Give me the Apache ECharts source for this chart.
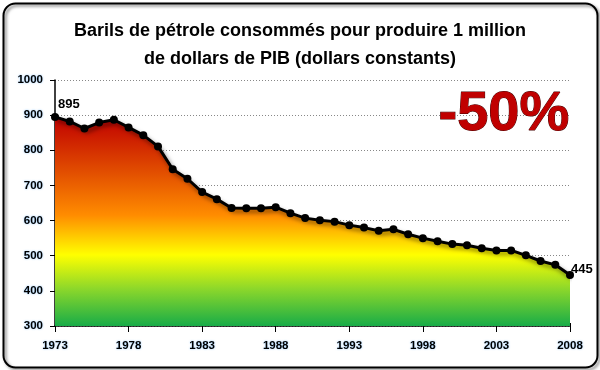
<!DOCTYPE html>
<html><head><meta charset="utf-8">
<script src="https://cdn.jsdelivr.net/npm/echarts@6/dist/echarts.min.js"></script>
<style>html,body{margin:0;padding:0;background:#fff}#c{width:600px;height:370px}</style>
</head><body><div id="c"></div>
<script>
const years = [];
for (let y = 1973; y <= 2008; y++) years.push(String(y));
const values = [895,882,862,879,887,865,843,811,746,719,681,661,636,635,635,638,621,607,601,597,587,580,571,575,561,550,541,533,530,521,515,515,501,485,474,445];
const yTicks = [300,1000,100];
const titleLines = ['Barils de pétrole consommés pour produire 1 million','de dollars de PIB (dollars constants)'];
const bigLabel = '-50%';

const F = 'Liberation Sans';
const lblStyle = {color:'#000', fontFamily:F, fontWeight:'bold', fontSize:11.5, textShadowColor:'rgba(80,170,255,0.7)', textShadowBlur:2};
const chart = echarts.init(document.getElementById('c'), null, {renderer:'canvas'});
const last = values.length - 1;
chart.setOption({
  animation:false,
  backgroundColor:'#fff',
  title:{text:titleLines.join('\n'), left:'center', top:12, textStyle:{fontFamily:F, fontWeight:'bold', fontSize:18, lineHeight:28, color:'#000'}},
  grid:{left:55, right:30, top:80, bottom:44, containLabel:false},
  graphic:[
    {type:'rect', left:1, top:1, shape:{width:594, height:364, r:12}, style:{fill:'none', stroke:'#000', lineWidth:2, shadowColor:'rgba(0,0,0,0.5)', shadowBlur:3, shadowOffsetX:2, shadowOffsetY:2}, z:-1},
    {type:'text', left:438, top:86, style:{text:bigLabel, fontFamily:F, fontWeight:'bold', fontSize:56, fill:'#c00000', stroke:'#400', lineWidth:1, shadowColor:'rgba(0,0,0,0.4)', shadowBlur:3, shadowOffsetX:2, shadowOffsetY:2}, z:100}
  ],
  xAxis:[
    {type:'category', data:years, boundaryGap:false,
     axisLine:{lineStyle:{color:'#000', width:1.5}},
     axisTick:{show:true, interval:4, length:6, inside:false, lineStyle:{color:'#000'}},
     axisLabel:{interval:4, margin:14, ...lblStyle},
     splitLine:{show:false}},
    {type:'category', data:years, boundaryGap:false, position:'bottom', gridIndex:0,
     axisLine:{show:false},
     axisTick:{show:true, interval:0, length:3, inside:true, lineStyle:{color:'#000'}},
     axisLabel:{show:false}, splitLine:{show:false}}
  ],
  yAxis:{type:'value', min:yTicks[0], max:yTicks[1], interval:yTicks[2],
    axisLine:{show:true, lineStyle:{color:'#000', width:1.5}},
    axisTick:{show:true, length:5, lineStyle:{color:'#000'}},
    axisLabel:{margin:12, formatter:v => String(v), ...lblStyle},
    splitLine:{show:true, lineStyle:{color:'#888', type:[1,2], width:1}}},
  series:[{
    type:'line', data:values, xAxisIndex:0,
    symbol:'circle', symbolSize:8,
    itemStyle:{color:'#000'},
    lineStyle:{color:'#000', width:3, shadowColor:'rgba(0,0,0,0.5)', shadowBlur:4, shadowOffsetX:2, shadowOffsetY:3},
    areaStyle:{origin:'start', opacity:1, color:new echarts.graphic.LinearGradient(0,0,0,1,[
      {offset:0, color:'#c00000'},
      {offset:0.25, color:'#e04a00'},
      {offset:0.47, color:'#ff8c00'},
      {offset:0.66, color:'#ffff00'},
      {offset:0.82, color:'#8ed82a'},
      {offset:1, color:'#18ac48'}])},
    label:{show:false},
    emphasis:{disabled:true},
    markPoint:{symbol:'circle', symbolSize:0, data:[
      {coord:[0, values[0]], value:values[0], label:{show:true, position:'right', offset:[-2,-12], fontFamily:F, fontWeight:'bold', fontSize:13, color:'#000', formatter:String(values[0])}},
      {coord:[last, values[last]], value:values[last], label:{show:true, position:'right', offset:[-4,-6], fontFamily:F, fontWeight:'bold', fontSize:13, color:'#000', formatter:String(values[last])}}
    ]}
  }]
});
</script></body></html>
